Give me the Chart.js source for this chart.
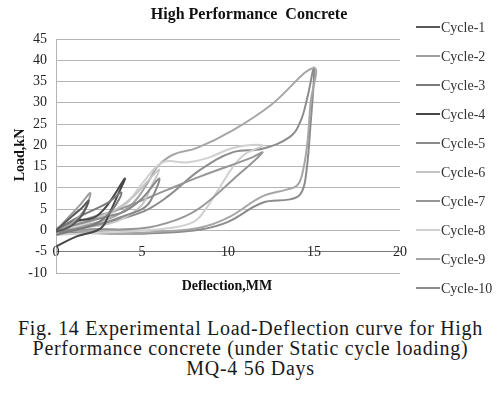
<!DOCTYPE html>
<html>
<head>
<meta charset="utf-8">
<script src="https://cdn.jsdelivr.net/npm/chart.js@4.4.0/dist/chart.umd.min.js"></script>
<style>
  body { margin: 0; background: #fff; }
  #wrap { position: relative; width: 501px; height: 393px; }
  #chartBox { position: absolute; left: 0; top: 0; width: 501px; height: 300px; }
  #caption {
    position: absolute; left: 0; top: 318px; width: 501px;
    text-align: center; font-family: "Liberation Serif", serif;
    font-size: 20px; letter-spacing: 0.7px; line-height: 20px; color: #1a1a1a;
  }
</style>
</head>
<body>
<div id="wrap">
  <div id="chartBox"><canvas id="loadChart" width="501" height="300"></canvas></div>
  <div id="caption">Fig. 14 Experimental Load-Deflection curve for High<br>Performance concrete (under Static cycle loading)<br>MQ-4 56 Days</div>
</div>
<script>
// Load-deflection readings per cycle, [deflection mm, load kN]
const cycle1 = [[0, 0], [0.5, 1.8], [1, 3.6], [1.5, 5.3], [1.9, 7], [1.5, 3.5], [1, 1.4], [0.5, 0.3], [0, -0.3]];
const cycle2 = [[0, 0], [0.7, 3], [1.4, 6], [2, 8.8], [1.6, 4.5], [1, 2], [0.4, 0.5], [0, -0.8]];
const cycle3 = [[0, 0], [1, 2.5], [2, 4.5], [3, 6.5], [3.8, 8.9], [3.3, 5], [2.5, 2], [1.5, 0.5], [0, -1]];
const cycle4 = [[0, 0], [1, 2.2], [2.2, 3], [3, 6], [4, 12.2], [3.5, 7.5], [3.1, 4], [2.6, 0.5], [1.2, -1.4], [0, -3.8]];
const cycle5 = [[0, 0], [1, 1.2], [2, 2.3], [3, 3.3], [4, 4.5], [5, 7.5], [6, 12.2], [5.5, 7], [5, 5], [4, 3.5], [3, 2], [2, 1], [1, 0.2], [0, -0.5]];
const cycle6 = [[0, 0], [2, 2.5], [3.5, 5], [4.5, 8], [5.2, 11], [6, 14.3], [5.5, 10], [5, 6], [4, 3], [3, 1.5], [1.5, 0.5], [0, -1.2]];
const cycle7 = [[0, 0], [2, 0.3], [5, 0.5], [7, 2.5], [8.4, 5.4], [10.3, 12], [12, 18.3], [11.3, 17], [8.4, 12.7], [6.5, 9.6], [3.7, 5], [2, 3], [0, 0.5]];
const cycle8 = [[0, 0], [2, 2], [4, 6], [5, 11], [6.2, 16], [7.6, 16], [8.8, 17], [10.3, 19.4], [12, 20], [11, 18], [10.3, 15], [9.5, 10], [8.7, 5], [8, 2], [6.5, 0.5], [5, 0], [3, -0.5], [0, -1]];
const cycle9 = [[0, 0], [2, 1.5], [3.5, 3.5], [4.5, 6.5], [5.3, 11], [5.9, 15], [6.8, 17.8], [8.2, 19.4], [10.3, 23.6], [12.5, 29.5], [15, 38.2],
  [14.8, 30], [14.6, 20], [14.3, 13], [14, 10.5], [13.4, 9.6], [12, 8], [10, 3], [8.4, 0.7], [6, -0.3], [4, -0.6], [2, -0.3], [0, 0]];
const cycle10 = [[0, -0.5], [2, -0.6], [4, -0.8], [6, -0.6], [8.4, 0.2], [10, 2], [12, 6.5], [13.6, 7.3], [14.2, 8.5], [14.5, 12], [14.8, 25], [15, 38.2],
  [14.6, 31], [14.2, 25.5], [13.6, 22], [12, 19.2], [10.3, 18.4], [8.4, 14.3], [6.5, 8], [5.1, 4.5], [3, 2], [0, 0]];

const cycleNames = ['Cycle-1', 'Cycle-2', 'Cycle-3', 'Cycle-4', 'Cycle-5', 'Cycle-6', 'Cycle-7', 'Cycle-8', 'Cycle-9', 'Cycle-10'];
const cycleColors = ['#595959', '#a0a0a0', '#7a7a7a', '#474747', '#8a8a8a', '#c4c4c4', '#969696', '#d0d0d0', '#a6a6a6', '#8c8c8c'];
const allCycles = [cycle1, cycle2, cycle3, cycle4, cycle5, cycle6, cycle7, cycle8, cycle9, cycle10];

const xTicks = [0, 5, 10, 15, 20];
const yTicks = [-10, -5, 0, 5, 10, 15, 20, 25, 30, 35, 40, 45];

const serif = '"Liberation Serif", "Times New Roman", serif';

// Title, axis titles and legend drawn on top of the chart
const textPlugin = {
    id: 'textPlugin',
    afterDraw(chart) {
        const ctx = chart.ctx;
        ctx.save();
        ctx.fillStyle = '#111';
        ctx.textAlign = 'center';
        ctx.textBaseline = 'alphabetic';
        ctx.font = 'bold 16px ' + serif;
        ctx.fillText('High Performance  Concrete', 249, 19);

        ctx.font = 'bold 14px ' + serif;
        ctx.fillText('Deflection,MM', 227, 290);

        ctx.translate(20, 155);
        ctx.rotate(-Math.PI / 2);
        ctx.textBaseline = 'middle';
        ctx.fillText('Load,kN', 0, 0);
        ctx.restore();

        // legend
        ctx.save();
        ctx.font = '14px ' + serif;
        ctx.textAlign = 'left';
        ctx.textBaseline = 'middle';
        chart.data.datasets.forEach((ds, i) => {
            const y = 27 + i * 29;
            ctx.strokeStyle = ds.borderColor;
            ctx.lineWidth = 2;
            ctx.beginPath();
            ctx.moveTo(416, y);
            ctx.lineTo(440, y);
            ctx.stroke();
            ctx.fillStyle = '#333';
            ctx.fillText(ds.label, 441, y + 1);
        });
        ctx.restore();
    }
};

function initChart() {
    const ctx = document.getElementById('loadChart');
    new Chart(ctx, {
        type: 'scatter',
        data: {
            datasets: allCycles.map((pts, i) => ({
                label: cycleNames[i],
                data: pts.map(p => ({ x: p[0], y: p[1] })),
                borderColor: cycleColors[i],
                backgroundColor: cycleColors[i],
                borderWidth: 2,
                showLine: true,
                tension: 0.4,
                pointRadius: 0
            }))
        },
        options: {
            responsive: false,
            animation: false,
            layout: { padding: { left: 0, top: 39, right: 101, bottom: 27 } },
            plugins: {
                legend: { display: false },
                tooltip: { enabled: false }
            },
            scales: {
                x: {
                    type: 'linear',
                    position: { y: -5 },
                    min: xTicks[0],
                    max: xTicks[xTicks.length - 1],
                    afterBuildTicks(scale) { scale.ticks = xTicks.map(v => ({ value: v })); },
                    grid: { display: false, drawTicks: false },
                    border: { color: '#777', width: 1 },
                    ticks: { padding: -8, color: '#222', font: { family: serif, size: 14 } }
                },
                y: {
                    min: yTicks[0],
                    max: yTicks[yTicks.length - 1],
                    afterBuildTicks(scale) { scale.ticks = yTicks.map(v => ({ value: v })); },
                    afterFit(scale) { scale.width = 56; },
                    grid: { color: '#b4b4b4', drawTicks: false },
                    border: { color: '#b4b4b4' },
                    ticks: { padding: 9, color: '#222', font: { family: serif, size: 14 } }
                }
            }
        },
        plugins: [textPlugin]
    });
}

document.addEventListener('DOMContentLoaded', function() {
    Promise.all([
        document.fonts.load('14px "Liberation Serif"'),
        document.fonts.load('bold 14px "Liberation Serif"')
    ]).then(initChart, initChart);
});
</script>
</body>
</html>
